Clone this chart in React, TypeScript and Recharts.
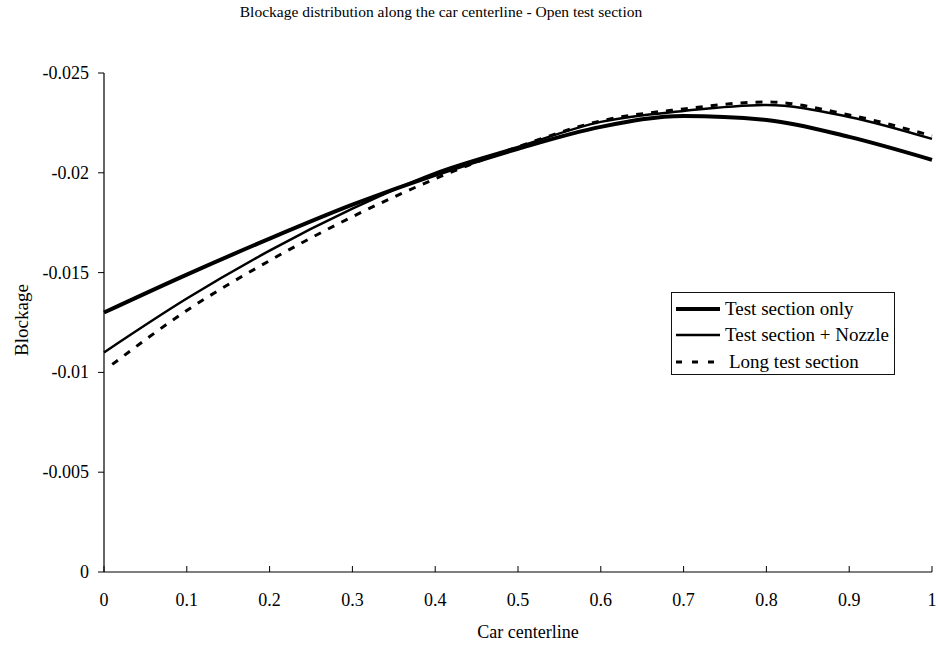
import React from 'react';
import { LineChart, Line, XAxis, YAxis } from 'recharts';

const xMain = [0, 0.1, 0.2, 0.3, 0.4, 0.5, 0.6, 0.7, 0.8, 0.9, 1.0];
const testSectionOnly = [-0.013, -0.0149, -0.0167, -0.0184, -0.0199, -0.0212, -0.0223, -0.02285, -0.02265, -0.0218, -0.02065];
const testSectionNozzle = [-0.011, -0.0137, -0.0161, -0.0182, -0.02, -0.0213, -0.02255, -0.0231, -0.0234, -0.0228, -0.0217];
const xLong = [0.01, 0.1, 0.2, 0.3, 0.4, 0.5, 0.6, 0.7, 0.8, 0.9, 1.0];
const longTestSection = [-0.0104, -0.0131, -0.0156, -0.0178, -0.0197, -0.0213, -0.0226, -0.0232, -0.02355, -0.0229, -0.02185];

const xTicks = [0, 0.1, 0.2, 0.3, 0.4, 0.5, 0.6, 0.7, 0.8, 0.9, 1];
const yTicks = [-0.025, -0.02, -0.015, -0.01, -0.005, 0];

const seriesNames = ['Test section only', 'Test section + Nozzle', 'Long test section'];
const title = 'Blockage distribution along the car centerline - Open test section';
const xLabel = 'Car centerline';
const yLabel = 'Blockage';

const FONT = 'Liberation Serif, DejaVu Serif, serif';

const dataA = xMain.map((x, i) => ({ x, y: testSectionOnly[i] }));
const dataB = xMain.map((x, i) => ({ x, y: testSectionNozzle[i] }));
const dataC = xLong.map((x, i) => ({ x, y: longTestSection[i] }));

const XTick = (props: any) => {
  const { x, y, payload } = props;
  return (
    <text x={x} y={y} dy={13} textAnchor="middle" fill="#000" style={{ fontFamily: FONT, fontSize: 18 }}>
      {String(payload.value)}
    </text>
  );
};

const YTick = (props: any) => {
  const { x, y, payload } = props;
  return (
    <text x={x} y={y} dy={6} textAnchor="end" fill="#000" style={{ fontFamily: FONT, fontSize: 18 }}>
      {String(payload.value)}
    </text>
  );
};

const LegendBox = () => (
  <div
    style={{
      position: 'absolute',
      left: 671,
      top: 292,
      width: 224,
      height: 83,
      border: '1px solid #111',
      background: '#fff',
      fontFamily: FONT,
      fontSize: 19,
      color: '#000',
      boxSizing: 'border-box',
    }}
  >
    {[0, 1, 2].map((i) => (
      <div key={i} style={{ position: 'absolute', left: 3, top: [4, 30, 57][i], height: 24, display: 'flex', alignItems: 'center', whiteSpace: 'nowrap' }}>
        <svg width={46} height={10} style={{ marginRight: i === 2 ? 8 : 4 }}>
          <line
            x1={1}
            x2={45}
            y1={5}
            y2={5}
            stroke="#000"
            strokeWidth={i === 0 ? 4 : i === 1 ? 2.5 : 3}
            strokeDasharray={i === 2 ? '6 10' : undefined}
          />
        </svg>
        <span style={{ fontFamily: FONT }}>{seriesNames[i]}</span>
      </div>
    ))}
  </div>
);

export default function App() {
  return (
    <div style={{ position: 'absolute', left: 0, top: 0, width: 938, height: 648, background: '#fff', fontFamily: FONT }}>
      <LineChart width={938} height={648} margin={{ top: 73, right: 6, bottom: 46, left: 44 }} style={{ fontFamily: FONT }}>
        <XAxis
          dataKey="x"
          type="number"
          domain={[0, 1]}
          ticks={xTicks}
          allowDuplicatedCategory={false}
          height={30}
          stroke="#000"
          tickSize={-6}
          tickMargin={27}
          tick={<XTick />}
          axisLine={{ stroke: '#000', strokeWidth: 1.2 }}
          tickLine={{ stroke: '#000' }}
        />
        <YAxis
          type="number"
          domain={[-0.025, 0]}
          reversed
          ticks={yTicks}
          width={60}
          stroke="#000"
          tickSize={6}
          tickMargin={9}
          tick={<YTick />}
          axisLine={{ stroke: '#000', strokeWidth: 1.2 }}
          tickLine={{ stroke: '#000' }}
        />
        <Line data={dataA} dataKey="y" name={seriesNames[0]} type="monotone" stroke="#000" strokeWidth={4} dot={false} isAnimationActive={false} />
        <Line data={dataB} dataKey="y" name={seriesNames[1]} type="monotone" stroke="#000" strokeWidth={2.5} dot={false} isAnimationActive={false} />
        <Line data={dataC} dataKey="y" name={seriesNames[2]} type="monotone" stroke="#000" strokeWidth={3} strokeDasharray="7 8" dot={false} isAnimationActive={false} />
      </LineChart>
      <div style={{ position: 'absolute', left: 0, width: 882, top: 3, textAlign: 'center', fontSize: 15.5, color: '#000', whiteSpace: 'nowrap' }}>
        {title}
      </div>
      <div style={{ position: 'absolute', left: 0, width: 1056, top: 622, textAlign: 'center', fontSize: 18, color: '#000' }}>
        {xLabel}
      </div>
      <div
        style={{
          position: 'absolute',
          left: 22,
          top: 320,
          transform: 'translate(-50%, -50%) rotate(-90deg)',
          fontSize: 19,
          color: '#000',
          whiteSpace: 'nowrap',
        }}
      >
        {yLabel}
      </div>
      <LegendBox />
    </div>
  );
}
